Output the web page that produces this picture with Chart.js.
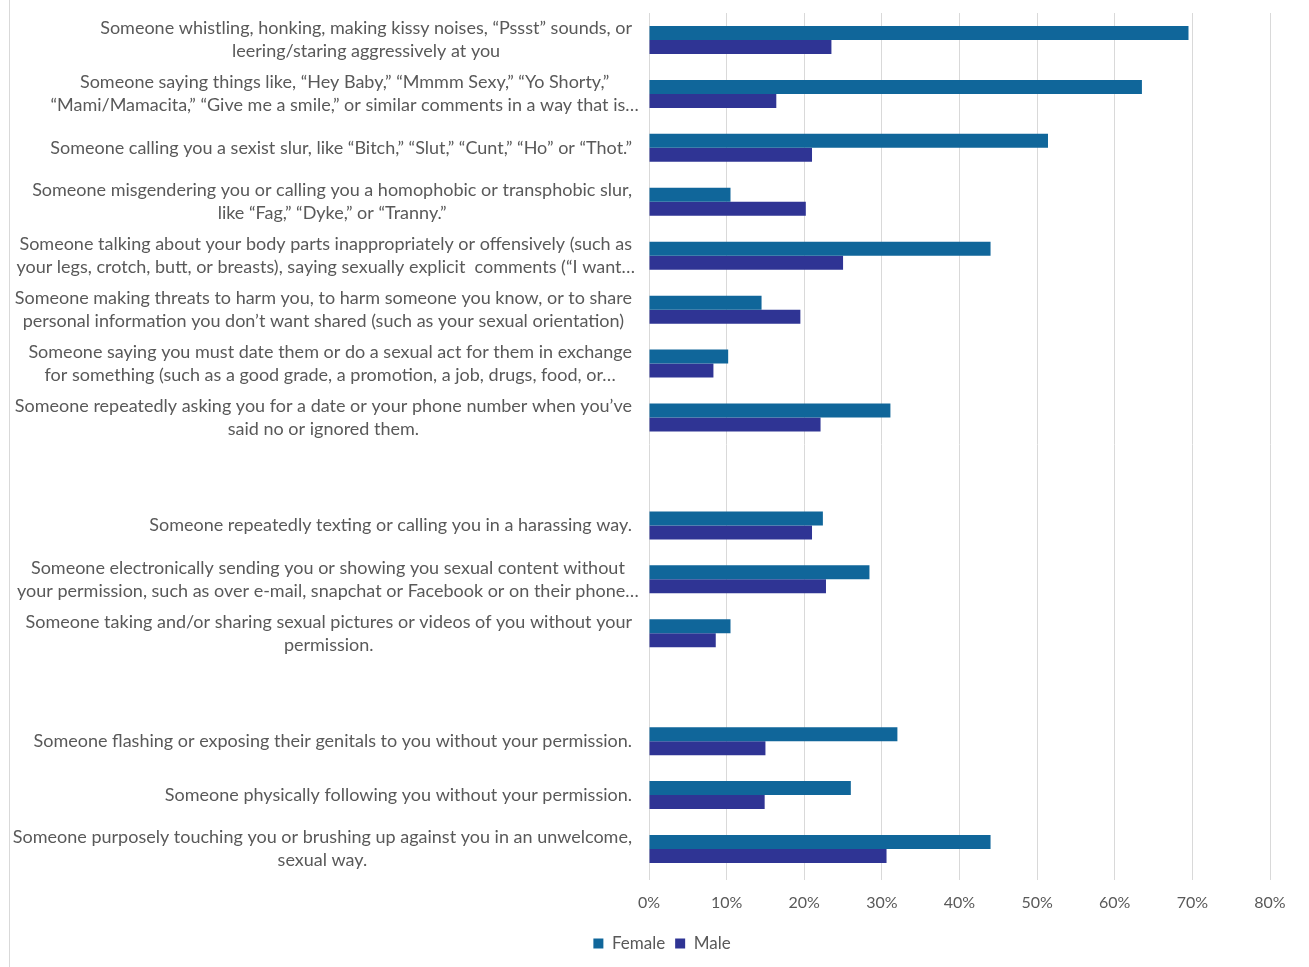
<!DOCTYPE html>
<html>
<head>
<meta charset="utf-8">
<script src="https://cdn.jsdelivr.net/npm/chart.js@4"></script>
<style>
  body { margin: 0; background: #fff; }
  #wrap { position: relative; width: 1309px; height: 967px; }
  #frame { position: absolute; left: 9px; top: 0; width: 1px; height: 967px; background: #d9d9d9; }
</style>
</head>
<body>
<div id="wrap">
  <div id="frame"></div>
  <canvas id="chart"></canvas>
</div>
<script>
// categories (empty entries are the gaps between groups)
const categories = [
    ['Someone whistling, honking, making kissy noises, \u201cPssst\u201d sounds, or', 'leering/staring aggressively at you'],
    ['Someone saying things like, \u201cHey Baby,\u201d \u201cMmmm Sexy,\u201d \u201cYo Shorty,\u201d', '\u201cMami/Mamacita,\u201d \u201cGive me a smile,\u201d or similar comments in a way that is\u2026'],
    ['Someone calling you a sexist slur, like \u201cBitch,\u201d \u201cSlut,\u201d \u201cCunt,\u201d \u201cHo\u201d or \u201cThot.\u201d'],
    ['Someone misgendering you or calling you a homophobic or transphobic slur,', 'like \u201cFag,\u201d \u201cDyke,\u201d or \u201cTranny.\u201d'],
    ['Someone talking about your body parts inappropriately or offensively (such as', 'your legs, crotch, butt, or breasts), saying sexually explicit  comments (\u201cI want\u2026'],
    ['Someone making threats to harm you, to harm someone you know, or to share', 'personal information you don\u2019t want shared (such as your sexual orientation)'],
    ['Someone saying you must date them or do a sexual act for them in exchange', 'for something (such as a good grade, a promotion, a job, drugs, food, or\u2026'],
    ['Someone repeatedly asking you for a date or your phone number when you\u2019ve', 'said no or ignored them.'],
    [''],
    ['Someone repeatedly texting or calling you in a harassing way.'],
    ['Someone electronically sending you or showing you sexual content without', 'your permission, such as over e-mail, snapchat or Facebook or on their phone\u2026'],
    ['Someone taking and/or sharing sexual pictures or videos of you without your', 'permission.'],
    [''],
    ['Someone flashing or exposing their genitals to you without your permission.'],
    ['Someone physically following you without your permission.'],
    ['Someone purposely touching you or brushing up against you in an unwelcome,', 'sexual way.']
];

const female = [69.5, 63.5, 51.4, 10.5, 44.0, 14.5, 10.2, 31.1, null, 22.4, 28.4, 10.5, null, 32.0, 26.0, 44.0];
const male   = [23.5, 16.4, 21.0, 20.2, 25.0, 19.5, 8.3, 22.1, null, 21.0, 22.8, 8.6, null, 15.0, 14.9, 30.6];

const xTicks = [0, 10, 20, 30, 40, 50, 60, 70, 80];

const FONT = 'Lato, "Open Sans", sans-serif';
const TEXT = '#595959';

// centred multi-line category labels, block pushed against the axis
const categoryLabels = {
    id: 'categoryLabels',
    afterDraw(chart) {
        const ctx = chart.ctx;
        const y = chart.scales.y;
        const right = 632;
        const lineH = 23;
        ctx.save();
        ctx.font = '18px ' + FONT;
        ctx.fillStyle = TEXT;
        ctx.textAlign = 'center';
        ctx.textBaseline = 'middle';
        const ell = ctx.measureText('\u2026').width;
        categories.forEach((lines, i) => {
            let w = 0;
            lines.forEach(l => {
                let lw = ctx.measureText(l).width;
                if (l.endsWith('\u2026')) lw -= ell;
                w = Math.max(w, lw);
            });
            const cx = right - w / 2;
            const cy = y.getPixelForValue(i);
            const top = cy - (lines.length - 1) * lineH / 2;
            lines.forEach((l, k) => ctx.fillText(l, cx, top + k * lineH));
        });
        ctx.restore();
    }
};

new Chart(document.getElementById('chart'), {
    type: 'bar',
    data: {
        labels: categories.map((c, i) => 'c' + i),
        datasets: [
            { label: 'Female', data: female, backgroundColor: '#10669a' },
            { label: 'Male', data: male, backgroundColor: '#2f3494' }
        ]
    },
    options: {
        indexAxis: 'y',
        responsive: true,
        maintainAspectRatio: false,
        animation: false,
        categoryPercentage: 0.52,
        barPercentage: 1,
        layout: { padding: { top: 13, right: 39, bottom: 5, left: 54 } },
        scales: {
            x: {
                min: 0,
                max: 80,
                afterBuildTicks: axis => { axis.ticks = xTicks.map(v => ({ value: v })); },
                afterFit: axis => { axis.height = 49; },
                grid: { color: '#d9d9d9', tickLength: 4, drawTicks: true },
                border: { display: false },
                ticks: {
                    padding: 13,
                    color: TEXT,
                    font: { family: FONT, size: 16 },
                    callback: v => v + '%'
                }
            },
            y: {
                afterFit: axis => { axis.width = 595; },
                grid: { display: false },
                border: { display: false },
                ticks: { display: false }
            }
        },
        plugins: {
            legend: {
                position: 'bottom',
                labels: {
                    boxWidth: 10,
                    boxHeight: 10,
                    padding: 10,
                    color: TEXT,
                    font: { family: FONT, size: 17 }
                }
            },
            tooltip: { enabled: false }
        }
    },
    plugins: [categoryLabels]
});
</script>
</body>
</html>
